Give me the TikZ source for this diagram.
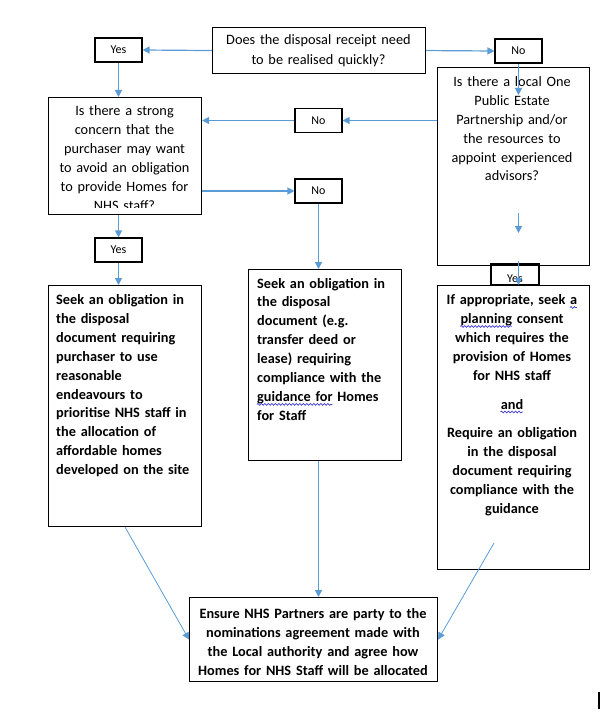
\documentclass[tikz,border=0pt]{standalone}
\usepackage{fontspec}
\setmainfont{Carlito}
\usepackage{xcolor}
\usetikzlibrary{arrows.meta,decorations.pathmorphing}

\definecolor{flowblue}{HTML}{5B9BD5}
\definecolor{waveblue}{HTML}{3C3CD2}

\newcommand{\boxfont}{\fontsize{14.3}{18.9}\selectfont}
\newcommand{\lblfont}{\fontsize{12}{14}\selectfont}
\newlength{\wavelen}
\newcommand{\gramwave}[1]{\mbox{#1}\settowidth{\wavelen}{#1}\llap{\tikz[baseline=0pt]\draw[waveblue, line width=0.7pt, decorate, decoration={snake, amplitude=0.9pt, segment length=3.5pt}] (0pt,-3pt) -- (\wavelen,-3pt);}}

\tikzset{
	frame/.style={draw, line width=1.1pt, inner sep=0pt, anchor=north west},
	lbl/.style={draw, line width=1.1pt, inner sep=0pt, font=\lblfont, minimum width=47pt, minimum height=24pt},
	qtext/.style={inner sep=0pt, font=\boxfont, text width=150pt, align=center, anchor=base},
	atext/.style={inner sep=0pt, font=\boxfont\bfseries, text width=148pt},
	flow/.style={draw=flowblue, line width=1.2pt, -{Triangle[length=7pt,width=7pt]}},
	slant/.style={draw=flowblue, line width=0.8pt, -{Triangle[length=7pt,width=7pt]}}
}

\begin{document}
\begin{tikzpicture}[x=1pt,y=-1pt]
						\useasboundingbox (0,0) rectangle (601,714);
						
						\node[frame, minimum width=213pt, minimum height=46pt] (q1) at (212,27) {};
						\node[qtext, text width=210pt, font=\fontsize{14.3}{19.8}\selectfont] (q1t) at (318.5,44.5) {Does the disposal receipt need\\ to be realised quickly?};
						
						\node[lbl] (yes1) at (118.5,50) {Yes};
						\node[lbl] (no1) at (518.5,51) {No};
						
						\node[frame, minimum width=153pt, minimum height=117pt] (q2) at (48,97) {};
						\begin{scope}
						\clip (48,97) rectangle (201,207.5);
						\node[qtext, font=\fontsize{14.3}{19}\selectfont] (q2t) at (124.5,116) {Is there a strong\\ concern that the\\ purchaser may want\\ to avoid an obligation\\ to provide Homes for\\ NHS staff?};
						\end{scope}
						
						\node[frame, minimum width=152pt, minimum height=198pt] (q3) at (437,67) {};
						\node[qtext] (q3t) at (512,86.5) {Is there a local One\\ Public Estate\\ Partnership and/or\\ the resources to\\ appoint experienced\\ advisors?};
						
						\node[lbl] (no2) at (318.5,120.5) {No};
						\node[lbl] (no3) at (318.5,191) {No};
						\node[lbl] (yes2) at (118.5,250) {Yes};
						\node[lbl, minimum width=48pt, minimum height=21pt] (yes3) at (515,274.5) {};
						\node[inner sep=0pt, font=\lblfont] (yes3t) at (515,279) {Yes};
						
						\node[frame, minimum width=153pt, minimum height=241pt] (ba) at (48,285) {};
						\node[atext, anchor=base west] (bat) at (56,304.5) {Seek an obligation in\\ the disposal\\ document requiring\\ purchaser to use\\ reasonable\\ endeavours to\\ prioritise NHS staff in\\ the allocation of\\ affordable homes\\ developed on the site};
						
						\node[frame, minimum width=153pt, minimum height=191pt] (bb) at (248,269) {};
						\node[atext, anchor=base west] (bbt) at (257,288) {Seek an obligation in\\ the disposal\\ document (e.g.\\ transfer deed or\\ lease) requiring\\ compliance with the\\ \gramwave{guidance for} Homes\\ for Staff};
						
						\node[frame, minimum width=152pt, minimum height=284pt] (bc) at (437,285) {};
						\node[atext, align=center, anchor=base] (bct) at (512,304.5) {If appropriate, seek \gramwave{a}\\ \gramwave{planning} consent\\ which requires the\\ provision of Homes\\ for NHS staff\\[10pt] \gramwave{and}\\[10pt] Require an obligation\\ in the disposal\\ document requiring\\ compliance with the\\ guidance};
						
						\node[frame, minimum width=248pt, minimum height=84pt] (bd) at (189,597) {};
						\node[atext, text width=245pt, align=center, anchor=base] (bdt) at (313,618.5) {Ensure NHS Partners are party to the\\ nominations agreement made with\\ the Local authority and agree how\\ Homes for NHS Staff will be allocated};
						
						\coordinate (q3in) at (518.5,95);
						\coordinate (q3low) at (518.5,213);
						\coordinate (q3tip) at (518.5,233);
						\coordinate (c3top) at (518.5,261);
						\coordinate (bcin) at (494,543);
						
						\draw[flow] (q1.west) -- (yes1.east);
						\draw[flow] (q1.east) -- (no1.west);
						\draw[flow] (yes1.south) -- (yes1.south |- q2.north);
						\draw[flow] (no1.south) -- (q3in);
						\draw[flow] (q3.west |- no2.east) -- (no2.east);
						\draw[flow] (no2.west) -- (q2.east |- no2.west);
						\draw[flow] (q2.east |- no3.west) -- (no3.west);
						\draw[flow] (no3.south) -- (no3.south |- bb.north);
						\draw[flow] (q3low) -- (q3tip);
						\draw[flow] (yes2.north |- q2.south) -- (yes2.north);
						\draw[flow] (yes2.south) -- (yes2.south |- ba.north);
						\draw[flow] (c3top) -- (c3top |- bc.north);
						\draw[flow] (no3.south |- bb.south) -- (no3.south |- bd.north);
						\draw[slant] (ba.south) -- (bd.west);
						\draw[slant] (bcin) -- (bd.east);
						
						\draw[line width=1.2pt] (599,692) -- (599,709);
						\end{tikzpicture}
\end{document}
